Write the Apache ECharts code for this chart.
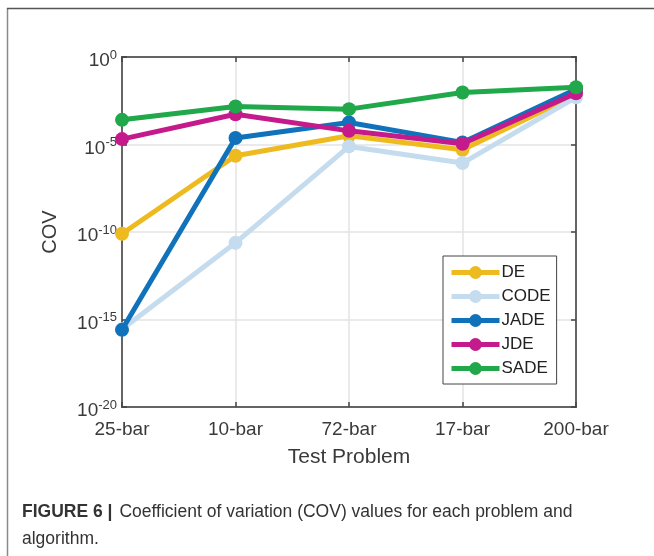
<!DOCTYPE html>
<html>
<head>
<meta charset="utf-8">
<script src="https://cdn.jsdelivr.net/npm/echarts@6/dist/echarts.min.js"></script>
<style>
  html, body { margin: 0; padding: 0; background: #fff; }
  #chart { width: 654px; height: 556px; }
</style>
</head>
<body>
<div id="chart"></div>
<script>
// Test problems on the x axis
const problems = ['25-bar', '10-bar', '72-bar', '17-bar', '200-bar'];

// COV values per algorithm (log10 of the value)
const deExp   = [-10.1, -5.64, -4.5, -5.3, -2.17];
const codeExp = [-15.56, -10.62, -5.11, -6.06, -2.3];
const jadeExp = [-15.59, -4.63, -3.74, -4.88, -1.84];
const jdeExp  = [-4.69, -3.27, -4.22, -4.96, -2.07];
const sadeExp = [-3.59, -2.83, -2.98, -2.03, -1.73];

const algorithms = ['DE', 'CODE', 'JADE', 'JDE', 'SADE'];
const colors = ['#edbb1f', '#c5dcef', '#0f72bb', '#c51a8b', '#20a84a'];
const seriesExp = [deExp, codeExp, jadeExp, jdeExp, sadeExp];

const FONT = '"Liberation Sans", Arial, Helvetica, sans-serif';
const AXIS_COLOR = '#444';
const TEXT_COLOR = '#3a3a3a';

const chart = echarts.init(document.getElementById('chart'), null, { renderer: 'canvas' });

// "10" with the exponent as a superscript
const powLabel = v => {
  const e = Math.round(Math.log10(v));
  return '{b|10}{s|' + e + '}';
};

const series = algorithms.map((name, i) => ({
  name: name,
  type: 'line',
  data: seriesExp[i].map(e => Math.pow(10, e)),
  symbol: 'circle',
  symbolSize: 14,
  lineStyle: { width: 5, color: colors[i] },
  itemStyle: { color: colors[i] },
  emphasis: { disabled: true },
  z: 2 + i
}));

chart.setOption({
  animation: false,
  backgroundColor: '#fff',
  textStyle: { fontFamily: FONT },
  grid: {
    left: 122, right: 78, top: 57, bottom: 149,
    show: true, borderColor: AXIS_COLOR, borderWidth: 1.5, backgroundColor: 'transparent'
  },
  legend: {
    data: algorithms,
    orient: 'vertical',
    left: 443, top: 256,
    itemWidth: 48, itemHeight: 16, itemGap: 7,
    padding: [8, 6, 7, 6],
    backgroundColor: '#fff',
    borderColor: '#444', borderWidth: 1,
    lineStyle: { width: 5 },
    textStyle: { fontSize: 17, color: '#222', fontFamily: FONT, padding: [0, 0, 0, -3] }
  },
  xAxis: [{
    type: 'category',
    data: problems,
    boundaryGap: false,
    name: 'Test Problem',
    nameLocation: 'middle',
    nameGap: 40,
    nameTextStyle: { fontSize: 21, color: TEXT_COLOR, fontFamily: FONT },
    axisLine: { show: true, lineStyle: { color: AXIS_COLOR, width: 1.5 } },
    axisTick: { show: true, inside: true, length: 5, alignWithLabel: true, lineStyle: { color: AXIS_COLOR, width: 1.5 } },
    axisLabel: { fontSize: 19, color: TEXT_COLOR, margin: 13, fontFamily: FONT },
    splitLine: { show: true, lineStyle: { color: '#e3e3e3', width: 1.5 } }
  }, {
    type: 'category',
    data: problems,
    boundaryGap: false,
    position: 'top',
    axisLine: { show: true, lineStyle: { color: AXIS_COLOR, width: 1.5 } },
    axisTick: { show: true, inside: true, length: 5, lineStyle: { color: AXIS_COLOR, width: 1.5 } },
    axisLabel: { show: false },
    splitLine: { show: false }
  }],
  yAxis: [{
    type: 'log',
    logBase: 10,
    min: 1e-20, max: 1,
    interval: 5,
    name: 'COV',
    nameLocation: 'middle',
    nameGap: 62,
    nameTextStyle: { fontSize: 20, color: TEXT_COLOR, fontFamily: FONT },
    axisLine: { show: true, lineStyle: { color: AXIS_COLOR, width: 1.5 } },
    axisTick: { show: true, inside: true, length: 5, lineStyle: { color: AXIS_COLOR, width: 1.5 } },
    axisLabel: {
      margin: 5,
      padding: [5, 0, 0, 0],
      formatter: powLabel,
      rich: {
        b: { fontSize: 19, color: TEXT_COLOR, fontFamily: FONT, verticalAlign: 'bottom' },
        s: { fontSize: 13, color: TEXT_COLOR, fontFamily: FONT, padding: [0, 0, 9, 0] }
      }
    },
    splitLine: { show: true, lineStyle: { color: '#e3e3e3', width: 1.5 } },
    minorTick: { show: false },
    minorSplitLine: { show: false }
  }, {
    type: 'log',
    logBase: 10,
    min: 1e-20, max: 1,
    interval: 5,
    position: 'right',
    axisLine: { show: true, lineStyle: { color: AXIS_COLOR, width: 1.5 } },
    axisTick: { show: true, inside: true, length: 5, lineStyle: { color: AXIS_COLOR, width: 1.5 } },
    axisLabel: { show: false },
    splitLine: { show: false }
  }],
  series: series,
  graphic: [
    { type: 'line', shape: { x1: 7.5, y1: 8, x2: 7.5, y2: 556 }, style: { stroke: '#8a8a8a', lineWidth: 1.5 }, silent: true },
    { type: 'line', shape: { x1: 7, y1: 8.5, x2: 654, y2: 8.5 }, style: { stroke: '#555', lineWidth: 1.5 }, silent: true },
    {
      type: 'text', left: 22, top: 503, silent: true,
      style: {
        text: '{h|FIGURE 6 |}{t|Coefficient of variation (COV) values for each problem and}',
        rich: {
          h: { fontSize: 17.5, fontWeight: 'bold', fill: '#333', fontFamily: FONT },
          t: { fontSize: 17.5, fill: '#333', fontFamily: FONT, padding: [0, 0, 0, 7] }
        }
      }
    },
    {
      type: 'text', left: 22, top: 530, silent: true,
      style: { text: 'algorithm.', fontSize: 17.5, fill: '#333', fontFamily: FONT }
    }
  ]
});
</script>
</body>
</html>
